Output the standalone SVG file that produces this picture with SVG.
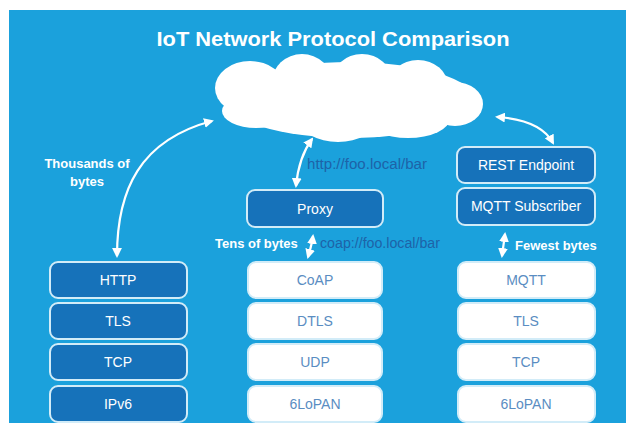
<svg xmlns="http://www.w3.org/2000/svg" width="626" height="423" viewBox="0 0 626 423">
<defs>
<style>
.dark{fill:#1672BA;stroke:#D2ECF8;stroke-width:2}
.light{fill:#FFFFFF;stroke:#D2ECF8;stroke-width:2}
.tw{font-family:"Liberation Sans",Arial,sans-serif;font-size:14px;fill:#FFFFFF;text-anchor:middle}
.tl{font-family:"Liberation Sans",Arial,sans-serif;font-size:14px;fill:#5A8DC2;text-anchor:middle}
.lbl{font-family:"Liberation Sans",Arial,sans-serif;font-size:13px;font-weight:bold;fill:#FFFFFF}
.url{font-family:"Liberation Sans",Arial,sans-serif;font-size:14px;fill:#1E63A8}
.conn{fill:none;stroke:#FFFFFF;stroke-width:2.2;marker-start:url(#ah);marker-end:url(#ah)}
</style>
<marker id="ah" viewBox="0 0 10 10" refX="8" refY="5" markerWidth="4.5" markerHeight="4.5" orient="auto-start-reverse" markerUnits="strokeWidth">
<path d="M0,0 L10,5 L0,10 Z" fill="#FFFFFF"/>
</marker>
</defs>
<rect x="0" y="0" width="626" height="423" fill="#FFFFFF"/>
<rect x="9" y="10" width="617" height="413" fill="#1BA1DC"/>
<text x="333" y="46" font-family="'Liberation Sans',Arial,sans-serif" font-size="21" font-weight="bold" fill="#FFFFFF" text-anchor="middle" textLength="353" lengthAdjust="spacingAndGlyphs">IoT Network Protocol Comparison</text>
<g id="cloud" fill="#FFFFFF">
<ellipse cx="350" cy="100" rx="125" ry="38"/>
<ellipse cx="250" cy="88" rx="35" ry="27"/>
<ellipse cx="302" cy="82" rx="30" ry="28"/>
<ellipse cx="362" cy="81" rx="30" ry="27"/>
<ellipse cx="418" cy="86" rx="30" ry="26"/>
<ellipse cx="455" cy="104" rx="28" ry="22"/>
<ellipse cx="256" cy="111" rx="34" ry="17"/>
<ellipse cx="338" cy="120" rx="38" ry="22"/>
<ellipse cx="408" cy="118" rx="42" ry="20"/>
</g>
<g id="connectors">
<path class="conn" d="M117,256 C117,190 140,140 212,121"/>
<path class="conn" d="M296,186 C298,165 304,150 312,139"/>
<path class="conn" d="M497,117 C525,119 545,128 553,143"/>
<path class="conn" d="M313,236 C312,244 310,250 308,257"/>
<path class="conn" d="M505,234 C504,242 503,248 502,256"/>
</g>
<g id="labels">
<text class="lbl" x="87" y="168" text-anchor="middle">Thousands of</text>
<text class="lbl" x="87" y="186" text-anchor="middle">bytes</text>
<text class="url" x="307" y="169" textLength="120" lengthAdjust="spacingAndGlyphs">http://foo.local/bar</text>
<text class="lbl" x="215" y="248">Tens of bytes</text>
<text class="url" x="320" y="248" textLength="120" lengthAdjust="spacingAndGlyphs">coap://foo.local/bar</text>
<text class="lbl" x="515" y="250">Fewest bytes</text>
</g>
<g id="proxy"><rect class="dark" x="247" y="190" width="136" height="37" rx="8"/><text class="tw" x="315" y="214">Proxy</text></g>
<g id="rest"><rect class="dark" x="457" y="147" width="138" height="36" rx="8"/><text class="tw" x="526" y="170">REST Endpoint</text></g>
<g id="mqttsub"><rect class="dark" x="457" y="188" width="138" height="37" rx="8"/><text class="tw" x="526" y="211">MQTT Subscriber</text></g>
<g id="http"><rect class="dark" x="50" y="262" width="137" height="36" rx="8"/><text class="tw" x="118" y="285">HTTP</text></g>
<g id="tls1"><rect class="dark" x="50" y="303" width="137" height="36" rx="8"/><text class="tw" x="118" y="326">TLS</text></g>
<g id="tcp1"><rect class="dark" x="50" y="344" width="137" height="36" rx="8"/><text class="tw" x="118" y="367">TCP</text></g>
<g id="ipv6"><rect class="dark" x="50" y="386" width="137" height="36" rx="8"/><text class="tw" x="118" y="409">IPv6</text></g>
<g id="coap"><rect class="light" x="248" y="262" width="134" height="36" rx="8"/><text class="tl" x="315" y="285">CoAP</text></g>
<g id="dtls"><rect class="light" x="248" y="303" width="134" height="36" rx="8"/><text class="tl" x="315" y="326">DTLS</text></g>
<g id="udp"><rect class="light" x="248" y="344" width="134" height="36" rx="8"/><text class="tl" x="315" y="367">UDP</text></g>
<g id="lowpan1"><rect class="light" x="248" y="386" width="134" height="36" rx="8"/><text class="tl" x="315" y="409">6LoPAN</text></g>
<g id="mqtt"><rect class="light" x="458" y="262" width="137" height="36" rx="8"/><text class="tl" x="526" y="285">MQTT</text></g>
<g id="tls2"><rect class="light" x="458" y="303" width="137" height="36" rx="8"/><text class="tl" x="526" y="326">TLS</text></g>
<g id="tcp2"><rect class="light" x="458" y="344" width="137" height="36" rx="8"/><text class="tl" x="526" y="367">TCP</text></g>
<g id="lowpan2"><rect class="light" x="458" y="386" width="137" height="36" rx="8"/><text class="tl" x="526" y="409">6LoPAN</text></g>
</svg>
